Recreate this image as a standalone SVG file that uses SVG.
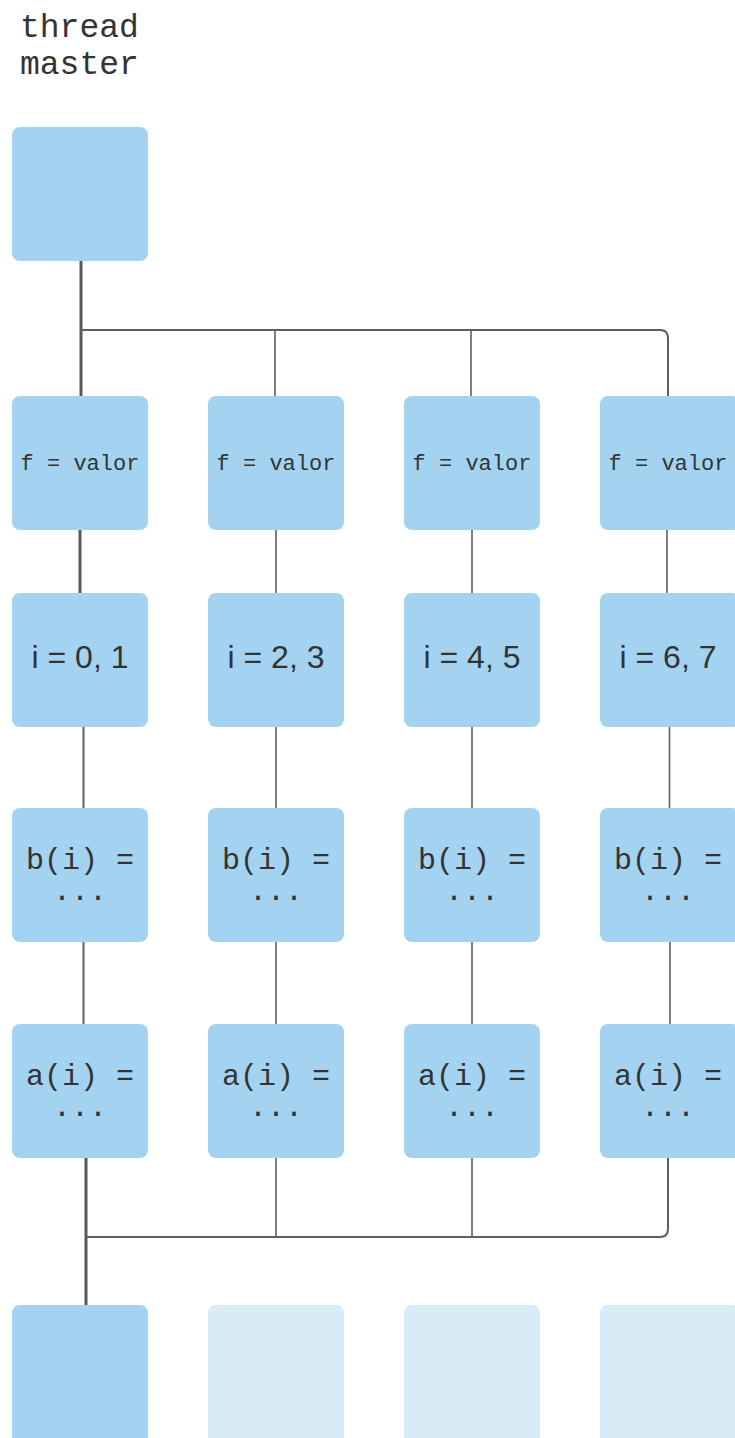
<svg xmlns="http://www.w3.org/2000/svg" width="735" height="1438" viewBox="0 0 735 1438">
<style>
.box{fill:#a3d3f0;}
.fade{fill:#d8ebf7;}
.mono{font-family:"Liberation Mono","DejaVu Sans Mono",monospace;fill:#333333;text-anchor:middle;}
.sans{font-family:"Liberation Sans",Arial,sans-serif;fill:#333333;text-anchor:middle;font-size:32px;}
.f{font-size:22px;}
.ab{font-size:30px;}
.thick{stroke:#595959;stroke-width:3;fill:none;}
.thin{stroke:#5e5e5e;stroke-width:1.6;fill:none;}
</style>
<rect width="735" height="1438" fill="#ffffff"/>
<text class="mono" x="20" y="37" font-size="33" style="text-anchor:start">thread</text>
<text class="mono" x="20" y="74" font-size="33" style="text-anchor:start">master</text>

<g id="connectors">
  <path class="thick" d="M81,261 V396"/>
  <path class="thin" d="M81,330 H660 Q668,330 668,338 V396" style="stroke-width:2"/>
  <path class="thin" d="M275,330 V396"/>
  <path class="thin" d="M471,330 V396"/>

  <path class="thick" d="M80,530 V593"/>
  <path class="thin" d="M276,530 V593"/>
  <path class="thin" d="M472,530 V593"/>
  <path class="thin" d="M667,530 V593"/>

  <path class="thin" d="M83.5,727 V808" style="stroke-width:2"/>
  <path class="thin" d="M276,727 V808"/>
  <path class="thin" d="M472,727 V808"/>
  <path class="thin" d="M669.5,727 V808"/>

  <path class="thin" d="M83.5,942 V1024" style="stroke-width:2"/>
  <path class="thin" d="M276,942 V1024"/>
  <path class="thin" d="M472,942 V1024"/>
  <path class="thin" d="M670,942 V1024"/>

  <path class="thick" d="M86,1158 V1305"/>
  <path class="thin" d="M86,1237 H660 Q668,1237 668,1229 V1158" style="stroke-width:2"/>
  <path class="thin" d="M276,1158 V1237"/>
  <path class="thin" d="M472,1158 V1237"/>
</g>

<g id="master-start"><rect class="box" x="12" y="127" width="136" height="134" rx="8"/></g>

<g id="f1"><rect class="box" x="12" y="396" width="136" height="134" rx="8"/><text class="mono f" x="80" y="470">f = valor</text></g>
<g id="f2"><rect class="box" x="208" y="396" width="136" height="134" rx="8"/><text class="mono f" x="276" y="470">f = valor</text></g>
<g id="f3"><rect class="box" x="404" y="396" width="136" height="134" rx="8"/><text class="mono f" x="472" y="470">f = valor</text></g>
<g id="f4"><rect class="box" x="600" y="396" width="140" height="134" rx="8"/><text class="mono f" x="668" y="470">f = valor</text></g>

<g id="i1"><rect class="box" x="12" y="593" width="136" height="134" rx="8"/><text class="sans" x="80" y="668">i = 0, 1</text></g>
<g id="i2"><rect class="box" x="208" y="593" width="136" height="134" rx="8"/><text class="sans" x="276" y="668">i = 2, 3</text></g>
<g id="i3"><rect class="box" x="404" y="593" width="136" height="134" rx="8"/><text class="sans" x="472" y="668">i = 4, 5</text></g>
<g id="i4"><rect class="box" x="600" y="593" width="140" height="134" rx="8"/><text class="sans" x="668" y="668">i = 6, 7</text></g>

<g id="b1"><rect class="box" x="12" y="808" width="136" height="134" rx="8"/><text class="mono ab" x="80" y="869">b(i) =</text><text class="mono ab" x="80" y="900">...</text></g>
<g id="b2"><rect class="box" x="208" y="808" width="136" height="134" rx="8"/><text class="mono ab" x="276" y="869">b(i) =</text><text class="mono ab" x="276" y="900">...</text></g>
<g id="b3"><rect class="box" x="404" y="808" width="136" height="134" rx="8"/><text class="mono ab" x="472" y="869">b(i) =</text><text class="mono ab" x="472" y="900">...</text></g>
<g id="b4"><rect class="box" x="600" y="808" width="140" height="134" rx="8"/><text class="mono ab" x="668" y="869">b(i) =</text><text class="mono ab" x="668" y="900">...</text></g>

<g id="a1"><rect class="box" x="12" y="1024" width="136" height="134" rx="8"/><text class="mono ab" x="80" y="1085">a(i) =</text><text class="mono ab" x="80" y="1116">...</text></g>
<g id="a2"><rect class="box" x="208" y="1024" width="136" height="134" rx="8"/><text class="mono ab" x="276" y="1085">a(i) =</text><text class="mono ab" x="276" y="1116">...</text></g>
<g id="a3"><rect class="box" x="404" y="1024" width="136" height="134" rx="8"/><text class="mono ab" x="472" y="1085">a(i) =</text><text class="mono ab" x="472" y="1116">...</text></g>
<g id="a4"><rect class="box" x="600" y="1024" width="140" height="134" rx="8"/><text class="mono ab" x="668" y="1085">a(i) =</text><text class="mono ab" x="668" y="1116">...</text></g>

<g id="master-end"><rect class="box" x="12" y="1305" width="136" height="140" rx="8"/></g>
<g id="idle2"><rect class="fade" x="208" y="1305" width="136" height="140" rx="8"/></g>
<g id="idle3"><rect class="fade" x="404" y="1305" width="136" height="140" rx="8"/></g>
<g id="idle4"><rect class="fade" x="600" y="1305" width="140" height="140" rx="8"/></g>
</svg>
